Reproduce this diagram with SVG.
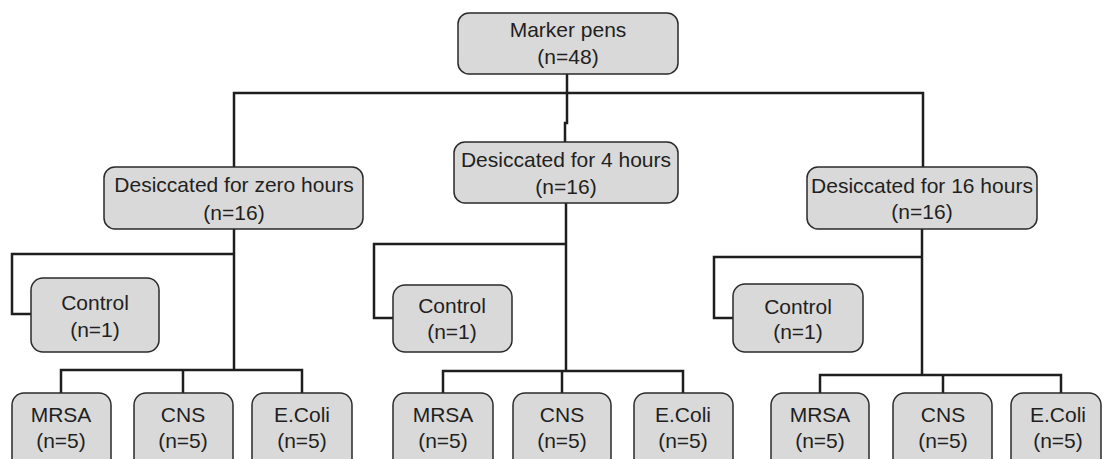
<svg xmlns="http://www.w3.org/2000/svg" width="1103" height="459" viewBox="0 0 1103 459">
<style>
.box{fill:#d9d9d9;stroke:#2a2a2a;stroke-width:1.5}
.t{font-family:"Liberation Sans",Arial,sans-serif;font-size:21px;fill:#231f20;text-anchor:middle}
.c{fill:none;stroke:#1e1e1e;stroke-width:2.5;stroke-linejoin:miter}
</style>
<rect width="1103" height="459" fill="#fff"/>
<g id="connectors">
<path class="c" d="M567,74 V123 H565 V142"/>
<path class="c" d="M234,167 V93 H923 V167"/>
<path class="c" d="M234,229 V370"/>
<path class="c" d="M234,254 H12 V314 H31"/>
<path class="c" d="M61,393 V370 H302 V393"/>
<path class="c" d="M183,370 V393"/>
<path class="c" d="M566,203 V371"/>
<path class="c" d="M566,244 H374 V318 H393"/>
<path class="c" d="M443,393 V371 H683 V393"/>
<path class="c" d="M562,371 V393"/>
<path class="c" d="M922,229 V375"/>
<path class="c" d="M922,257 H714 V318 H733"/>
<path class="c" d="M820,393 V375 H1061 V393"/>
<path class="c" d="M943,375 V393"/>
</g>
<g id="marker-pens"><rect class="box" x="458" y="13" width="220" height="61" rx="11"/><text class="t" x="568" y="37">Marker pens</text><text class="t" x="568" y="64">(n=48)</text></g>
<g id="desiccated-zero"><rect class="box" x="104" y="167" width="259" height="62" rx="11"/><text class="t" x="234" y="192">Desiccated for zero hours</text><text class="t" x="234" y="220">(n=16)</text></g>
<g id="desiccated-4"><rect class="box" x="454" y="142" width="224" height="61" rx="11"/><text class="t" x="566" y="167">Desiccated for 4 hours</text><text class="t" x="566" y="194">(n=16)</text></g>
<g id="desiccated-16"><rect class="box" x="807" y="167" width="230" height="62" rx="11"/><text class="t" x="922" y="193">Desiccated for 16 hours</text><text class="t" x="922" y="219">(n=16)</text></g>
<g id="control-zero"><rect class="box" x="31" y="278" width="128" height="74" rx="12"/><text class="t" x="95" y="310">Control</text><text class="t" x="95" y="337">(n=1)</text></g>
<g id="control-4"><rect class="box" x="393" y="285" width="119" height="67" rx="12"/><text class="t" x="452" y="313">Control</text><text class="t" x="452" y="339">(n=1)</text></g>
<g id="control-16"><rect class="box" x="733" y="284" width="130" height="68" rx="12"/><text class="t" x="798" y="314">Control</text><text class="t" x="798" y="339">(n=1)</text></g>
<g id="mrsa-zero"><rect class="box" x="12" y="393" width="99" height="80" rx="12"/><text class="t" x="61" y="422">MRSA</text><text class="t" x="61" y="448">(n=5)</text></g>
<g id="cns-zero"><rect class="box" x="134" y="393" width="99" height="80" rx="12"/><text class="t" x="183" y="422">CNS</text><text class="t" x="183" y="448">(n=5)</text></g>
<g id="ecoli-zero"><rect class="box" x="252" y="393" width="100" height="80" rx="12"/><text class="t" x="302" y="422">E.Coli</text><text class="t" x="302" y="448">(n=5)</text></g>
<g id="mrsa-4"><rect class="box" x="393" y="393" width="100" height="80" rx="12"/><text class="t" x="443" y="422">MRSA</text><text class="t" x="443" y="448">(n=5)</text></g>
<g id="cns-4"><rect class="box" x="513" y="393" width="98" height="80" rx="12"/><text class="t" x="562" y="422">CNS</text><text class="t" x="562" y="448">(n=5)</text></g>
<g id="ecoli-4"><rect class="box" x="634" y="393" width="99" height="80" rx="12"/><text class="t" x="683" y="422">E.Coli</text><text class="t" x="683" y="448">(n=5)</text></g>
<g id="mrsa-16"><rect class="box" x="771" y="393" width="98" height="80" rx="12"/><text class="t" x="820" y="422">MRSA</text><text class="t" x="820" y="448">(n=5)</text></g>
<g id="cns-16"><rect class="box" x="893" y="393" width="99" height="80" rx="12"/><text class="t" x="943" y="422">CNS</text><text class="t" x="943" y="448">(n=5)</text></g>
<g id="ecoli-16"><rect class="box" x="1011" y="393" width="90" height="80" rx="12"/><text class="t" x="1058" y="422">E.Coli</text><text class="t" x="1058" y="448">(n=5)</text></g>
</svg>
